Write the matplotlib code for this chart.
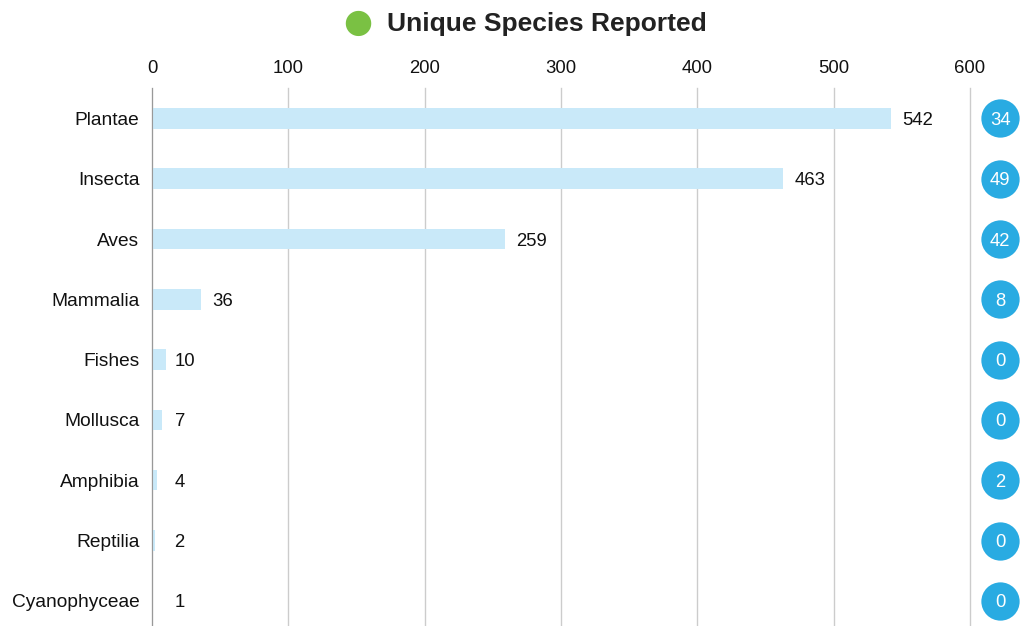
import numpy as np
import matplotlib.pyplot as plt
from matplotlib.transforms import blended_transform_factory, offset_copy

plt.rcParams['font.family'] = ['Liberation Sans', 'DejaVu Sans']

categories = ['Plantae', 'Insecta', 'Aves', 'Mammalia', 'Fishes',
              'Mollusca', 'Amphibia', 'Reptilia', 'Cyanophyceae']
species = [542, 463, 259, 36, 10, 7, 4, 2, 1]
badges = [34, 49, 42, 8, 0, 0, 2, 0, 0]
xticks = [0, 100, 200, 300, 400, 500, 600]

fig = plt.figure(figsize=(10.21, 6.26), dpi=100)
ax = fig.add_axes([0.1489, -0.008, 0.8012, 0.867])

y = np.arange(len(categories))
ax.barh(y, species, height=0.34, color='#c9e9f9', zorder=2)

ax.set_xlim(0, 600)
ax.set_ylim(len(categories) - 0.5, -0.5)
ax.set_xticks(xticks)
ax.xaxis.tick_top()
ax.tick_params(axis='x', length=0, labelsize=13.3, pad=8, labelcolor='#111111')
ax.set_yticks(y)
ax.set_yticklabels(categories, va='center_baseline')
ax.tick_params(axis='y', length=0, labelsize=13.8, pad=9, labelcolor='#111111')
ax.grid(axis='x', color='#cccccc', linewidth=1, zorder=0)
for gl in ax.get_xgridlines():
    gl.set_clip_on(False)
for s in ['top', 'right', 'bottom']:
    ax.spines[s].set_visible(False)
ax.spines['left'].set_color('#999999')
ax.spines['left'].set_zorder(3)

# value labels, pushed out a little for the tiny bars
for yi, v in zip(y, species):
    if v > 16:
        tr = offset_copy(ax.transData, fig=fig, x=11, y=0, units='dots')
        x = v
    else:
        tr = ax.transData
        x = 16.5
    ax.text(x, yi, str(v), transform=tr, ha='left', va='center_baseline',
            fontsize=13.3, color='#111111')

# badges on the right
bt = blended_transform_factory(ax.transAxes, ax.transData)
bx = (1000 - 152) / 818
ax.scatter([bx] * len(y), y, s=760, color='#29abe2', transform=bt,
           clip_on=False, zorder=4, linewidths=0)
for yi, b in zip(y, badges):
    ax.text(bx, yi, str(b), transform=bt, ha='center', va='center_baseline',
            fontsize=13.3, color='white', zorder=5)

# title with green dot
fig.text(358 / 1021, 1 - 22 / 626, '\u25CF', color='#7ac143', fontsize=24,
         ha='center', va='center', family='DejaVu Sans')
fig.text(387 / 1021, 1 - 22 / 626, 'Unique Species Reported', fontsize=19,
         fontweight='bold', color='#222222', ha='left', va='center_baseline')

fig.savefig('out.png', dpi=100)
